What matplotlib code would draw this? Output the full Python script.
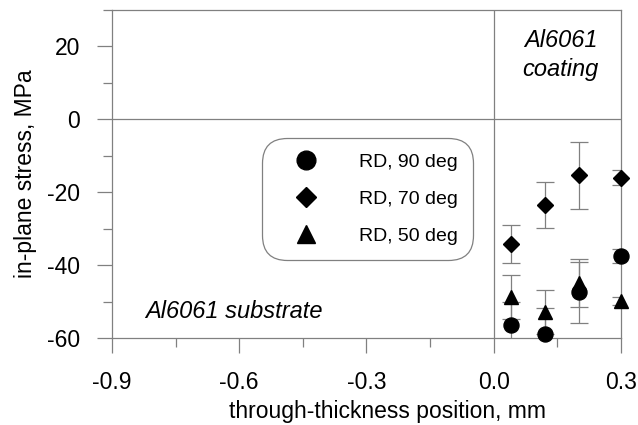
import matplotlib
matplotlib.use("Agg")
import matplotlib.pyplot as plt
from matplotlib.ticker import MultipleLocator

plt.rcParams['font.family'] = ['Liberation Sans', 'DejaVu Sans']
plt.rcParams['axes.unicode_minus'] = False

# data
positions = [0.04, 0.12, 0.20, 0.30]
rd90 = [-56.4, -58.9, -47.5, -37.5]
rd90_err = [6.3, 7.0, 8.3, 2.0]
rd70 = [-34.2, -23.5, -15.4, -16.0]
rd70_err = [5.1, 6.2, 9.1, 2.1]
rd50 = [-48.7, -52.8, -45.0, -49.8]
rd50_err = [6.0, 6.0, 6.6, 1.1]
labels = ["RD, 90 deg", "RD, 70 deg", "RD, 50 deg"]
x_ticks = [-0.9, -0.6, -0.3, 0.0, 0.3]
x_ticklabels = ["-0.9", "-0.6", "-0.3", "0.0", "0.3"]
y_ticks = [-60, -40, -20, 0, 20]

gray = "#808080"
fig = plt.figure(figsize=(6.38, 4.25), dpi=100)
ax = fig.add_axes([0.1755, 0.2047, 0.7979, 0.7718])

ax.axvline(0, color=gray, lw=0.9, zorder=1)
ax.axhline(0, color=gray, lw=0.9, zorder=1)

series = [(rd90, rd90_err, 'o', 10.8), (rd70, rd70_err, 'D', 8.0), (rd50, rd50_err, '^', 9.8)]
handles = []
for (vals, errs, mk, ms), lab in zip(series, labels):
    ax.errorbar(positions, vals, yerr=errs, fmt='none', ecolor=gray, elinewidth=0.9,
                capsize=6.5, capthick=0.9, zorder=2)
    h, = ax.plot(positions, vals, linestyle='none', marker=mk, ms=ms, color='black',
                 mec='black', label=lab, zorder=3, clip_on=False)
    handles.append(h)

ax.set_xlim(-0.9, 0.3)
ax.set_ylim(-60, 30)
ax.set_xticks(x_ticks)
ax.set_xticklabels(x_ticklabels)
ax.set_yticks(y_ticks)
ax.xaxis.set_minor_locator(MultipleLocator(0.15))
ax.yaxis.set_minor_locator(MultipleLocator(10))
ax.tick_params(which='both', direction='out', color=gray, width=0.9, labelsize=16.5)
ax.tick_params(which='major', length=11)
ax.tick_params(axis='x', which='major', pad=13)
ax.tick_params(axis='y', which='major', pad=12)
ax.tick_params(which='minor', length=6.5)
for s in ax.spines.values():
    s.set_color(gray)
    s.set_linewidth(0.9)

ax.set_xlabel("through-thickness position, mm", fontsize=16.5)
ax.xaxis.set_label_coords(0.542, -0.19)
ax.set_ylabel("in-plane stress, MPa", fontsize=16.5)
ax.yaxis.set_label_coords(-0.147, 0.5)

ax.text(0.158, 19.8, "Al6061", style='italic', fontsize=17, ha='center', va='baseline')
ax.text(0.158, 11.8, "coating", style='italic', fontsize=17, ha='center', va='baseline')
ax.text(-0.822, -52.7, "Al6061 substrate", style='italic', fontsize=17, ha='left', va='center')

leg = ax.legend(handles=handles, loc='upper left', bbox_to_anchor=(0.295, 0.61),
                fontsize=14, frameon=True, fancybox=True, edgecolor=gray,
                handlelength=2.9, handletextpad=1.3, borderpad=0.78, labelspacing=1.0,
                borderaxespad=0, markerscale=1.25)
leg.get_frame().set_boxstyle("round,pad=0,rounding_size=1.3")
leg.get_frame().set_linewidth(0.9)
leg.get_frame().set_alpha(1)

fig.savefig("out.png", dpi=100)
